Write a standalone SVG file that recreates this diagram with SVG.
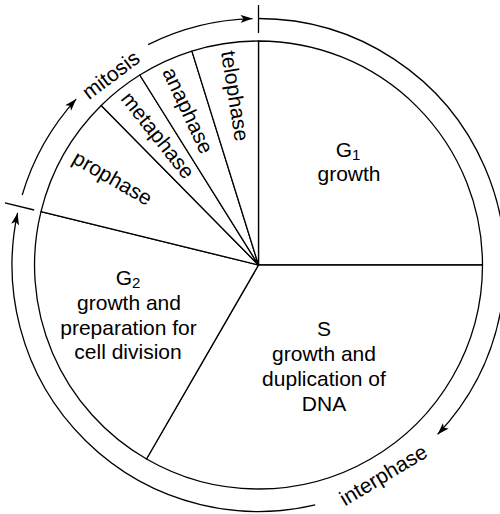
<svg xmlns="http://www.w3.org/2000/svg" width="500" height="514" viewBox="0 0 500 514">
<defs>
<style>
.seg{fill:#fff;stroke:#000;stroke-width:1.3;stroke-linejoin:round}
.arc{fill:none;stroke:#000;stroke-width:1.3}
.tick{fill:none;stroke:#000;stroke-width:1.3}
text{font-family:"Liberation Sans",Arial,Helvetica,sans-serif;font-size:21px;fill:#000}
.c{text-anchor:middle}
</style>
<marker id="ah" markerUnits="userSpaceOnUse" markerWidth="14" markerHeight="10" refX="12" refY="4" orient="auto" viewBox="0 0 14 10">
<path d="M0,0 L12,4 L0,8 L3,4 Z" fill="#000"/>
</marker>
</defs>
<rect width="500" height="514" fill="#fff"/>

<g id="G1">
<path class="seg" d="M258.5,265 L258.5,41 A224,224 0 0 1 482.5,265 Z"/>
<text class="c" x="348" y="157">G<tspan font-size="15" dy="3">1</tspan></text>
<text class="c" x="349" y="181">growth</text>
</g>

<g id="S">
<path class="seg" d="M258.5,265 L482.5,265 A224,224 0 0 1 146.5,459 Z"/>
<text class="c" x="324" y="336">S</text>
<text class="c" x="324" y="361">growth and</text>
<text class="c" x="324" y="386">duplication of</text>
<text class="c" x="324" y="411">DNA</text>
</g>

<g id="G2">
<path class="seg" d="M258.5,265 L146.5,459 A224,224 0 0 1 41,211.6 Z"/>
<text class="c" x="128" y="285">G<tspan font-size="15" dy="3">2</tspan></text>
<text class="c" x="129" y="309.5">growth and</text>
<text class="c" x="128.5" y="334.5">preparation for</text>
<text class="c" x="128" y="359">cell division</text>
</g>

<g id="prophase">
<path class="seg" d="M258.5,265 L41,211.6 A224,224 0 0 1 101.2,105.5 Z"/>
<text class="c" transform="translate(112,179) rotate(30)" x="0" y="6">prophase</text>
</g>

<g id="metaphase">
<path class="seg" d="M258.5,265 L101.2,105.5 A224,224 0 0 1 139.8,75 Z"/>
<text class="c" transform="translate(157,136) rotate(51.5)" x="0" y="6">metaphase</text>
</g>

<g id="anaphase">
<path class="seg" d="M258.5,265 L139.8,75 A224,224 0 0 1 191.9,51.1 Z"/>
<text class="c" transform="translate(187,111) rotate(65)" x="0" y="6">anaphase</text>
</g>

<g id="telophase">
<path class="seg" d="M258.5,265 L191.9,51.1 A224,224 0 0 1 258.5,41 Z"/>
<text class="c" transform="translate(234,96) rotate(81)" x="0" y="6">telophase</text>
</g>

<g id="connectors">
<path class="arc" d="M22.2,195 A246.5,246.5 0 0 1 76.2,99.1" marker-end="url(#ah)"/>
<path class="arc" d="M148.1,44.6 A246.5,246.5 0 0 1 252.5,18.6" marker-end="url(#ah)"/>
<path class="arc" d="M258.5,18.5 A246.5,246.5 0 0 1 437.6,434.4" marker-end="url(#ah)"/>
<path class="arc" d="M315.2,504.9 A246.5,246.5 0 0 1 17.6,212.9" marker-end="url(#ah)"/>
<line class="tick" x1="258.5" y1="5" x2="258.5" y2="33"/>
<line class="tick" x1="4.9" y1="202.9" x2="34.2" y2="210"/>
<text class="c" transform="translate(111,75) rotate(-37)" x="0" y="7">mitosis</text>
<text class="c" transform="translate(384,476) rotate(-31)" x="0" y="6">interphase</text>
</g>
</svg>
